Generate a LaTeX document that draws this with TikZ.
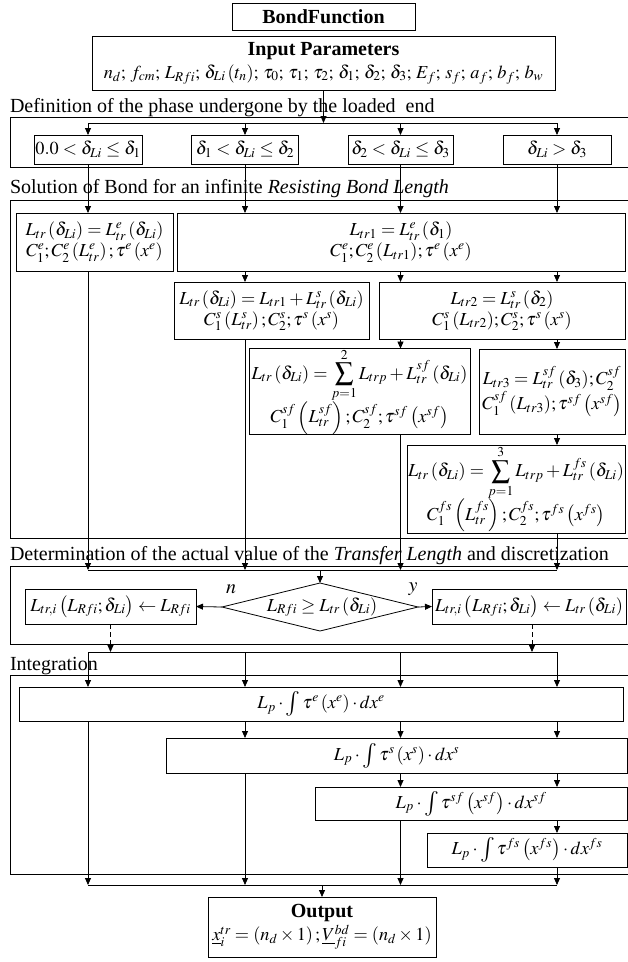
\documentclass[tikz,border=0pt]{standalone}
\usepackage{mathptmx}
\usepackage[no-math]{fontspec}
\setmainfont{Liberation Serif}
\usetikzlibrary{arrows.meta,shapes.geometric}
\newcommand{\Intg}{\mathop{\vcenter{\hbox{\scalebox{1.35}{$\int$}}}}\nolimits}
\newcommand{\semi}{;\mskip2.5mu}
\newcommand{\mfont}{\fontsize{18.3}{21}\selectfont}
\begin{document}
\begin{tikzpicture}[x=1pt,y=-1pt,
  font=\fontsize{20}{23}\selectfont,
  every node/.style={inner sep=0pt, outer sep=0pt},
  box/.style={draw, line width=0.8pt, align=center},
  mbox/.style={box, font=\mfont},
  sec/.style={draw, line width=0.8pt},
  ln/.style={line width=0.8pt},
  arr/.style={line width=0.8pt, -{Triangle[length=7pt,width=6pt]}},
  dsh/.style={arr, dash pattern=on 5pt off 3pt},
  sectitle/.style={anchor=base west},
  dia/.style={draw, diamond, line width=0.8pt, minimum width=196pt, minimum height=48pt}
]
\useasboundingbox (0,0) rectangle (628,962);
% columns and buses
\coordinate (c1) at (88,0);
\coordinate (c2) at (245,0);
\coordinate (c3) at (400.5,0);
\coordinate (c4) at (557,0);
\coordinate (bus1) at (0,123);
\coordinate (bus2) at (0,570);
\coordinate (bus3) at (0,652);
\coordinate (bus4) at (0,885);

% title and input
\node[box, minimum width=183pt, minimum height=27pt] (title) at (323.5,16.5) {\textbf{BondFunction}};
\node[box, minimum width=463pt, minimum height=54pt] (input) at (323.5,63)
  {\textbf{Input Parameters}\\[0pt]
   \mfont$n_d\semi f_{cm}\semi L_{Rfi}\semi\delta_{Li}\,(t_n)\semi\tau_0\semi\tau_1\semi\tau_2\semi\delta_1\semi\delta_2\semi\delta_3\semi E_f\semi s_f\semi a_f\semi b_f\semi b_w$};

% section 1
\node[sectitle] (t1) at (10,112) {Definition of the phase undergone by the loaded\ \ end};
\node[sec, minimum width=618pt, minimum height=50pt] (s1) at (319,142) {};
\node[mbox, minimum width=108pt, minimum height=29pt] (p1) at (88,149.5) {$0.0<\delta_{Li}\le\delta_1$};
\node[mbox, minimum width=107pt, minimum height=29pt] (p2) at (245,149.5) {$\delta_1<\delta_{Li}\le\delta_2$};
\node[mbox, minimum width=105pt, minimum height=29pt] (p3) at (400.5,149.5) {$\delta_2<\delta_{Li}\le\delta_3$};
\node[mbox, minimum width=108pt, minimum height=29pt] (p4) at (557,149.5) {$\delta_{Li}>\delta_3$};

% section 2
\node[sectitle] (t2) at (10,193) {Solution of Bond for an infinite \textit{Resisting Bond Length}};
\node[sec, minimum width=618pt, minimum height=338pt] (s2) at (319,369) {};
\node[mbox, minimum width=157pt, minimum height=58pt] (A) at (94.5,242)
  {$L_{tr}\,(\delta_{Li})=L^{e}_{tr}\,(\delta_{Li})$\\ $C^{e}_{1};C^{e}_{2}\left(L^{e}_{tr}\right);\tau^{e}\left(x^{e}\right)$};
\node[mbox, minimum width=448pt, minimum height=58pt] (B) at (401,242)
  {$L_{tr1}=L^{e}_{tr}\,(\delta_{1})$\\ $C^{e}_{1};C^{e}_{2}\,(L_{tr1});\tau^{e}\left(x^{e}\right)$};
\node[mbox, minimum width=195pt, minimum height=57pt] (C) at (271.5,310.5)
  {$L_{tr}\,(\delta_{Li})=L_{tr1}+L^{s}_{tr}\,(\delta_{Li})$\\ $C^{s}_{1}\left(L^{s}_{tr}\right);C^{s}_{2};\tau^{s}\left(x^{s}\right)$};
\node[mbox, minimum width=246pt, minimum height=57pt] (E) at (502,310.5)
  {$L_{tr2}=L^{s}_{tr}\,(\delta_{2})$\\ $C^{s}_{1}\,(L_{tr2});C^{s}_{2};\tau^{s}\left(x^{s}\right)$};
\node[mbox, minimum width=221pt, minimum height=85pt] (D) at (359.5,391.5)
  {$L_{tr}\,(\delta_{Li})=\displaystyle\sum_{p=1}^{2}L_{trp}+L^{sf}_{tr}\,(\delta_{Li})$\\[-2pt] $C^{sf}_{1}\left(L^{sf}_{tr}\right);C^{sf}_{2};\tau^{sf}\left(x^{sf}\right)$};
\node[mbox, minimum width=146pt, minimum height=85pt] (F) at (552,391.5)
  {$L_{tr3}=L^{sf}_{tr}\,(\delta_{3});C^{sf}_{2}$\\ $C^{sf}_{1}\,(L_{tr3});\tau^{sf}\left(x^{sf}\right)$};
\node[mbox, minimum width=218pt, minimum height=88pt] (G) at (516,489)
  {$L_{tr}\,(\delta_{Li})=\displaystyle\sum_{p=1}^{3}L_{trp}+L^{fs}_{tr}\,(\delta_{Li})$\\[-2pt] $C^{fs}_{1}\left(L^{fs}_{tr}\right);C^{fs}_{2};\tau^{fs}\left(x^{fs}\right)$};

% section 3
\node[sectitle] (t3) at (10,560) {Determination of the actual value of the \textit{Transfer Length} and discretization};
\node[sec, minimum width=618pt, minimum height=78pt] (s3) at (319,605) {};
\node[dia] (dia) at (320,607) {};
\node[font=\mfont] (diat) at (322,607) {$L_{Rfi}\ge L_{tr}\,(\delta_{Li})$};
\node[mbox, minimum width=171pt, minimum height=35pt] (L) at (110.5,606.5)
  {$L_{tr,i}\left(L_{Rfi};\delta_{Li}\right)\leftarrow L_{Rfi}$};
\node[mbox, minimum width=194pt, minimum height=35pt] (R) at (529,606.5)
  {$L_{tr,i}\left(L_{Rfi};\delta_{Li}\right)\leftarrow L_{tr}\,(\delta_{Li})$};
\node (ln) at (231,589) {$n$};
\node (ly) at (413,589) {$y$};

% section 4
\node[sectitle] (t4) at (10,670) {Integration};
\node[sec, minimum width=618pt, minimum height=199pt] (s4) at (319,774.5) {};
\node[mbox, minimum width=604pt, minimum height=34pt] (I1) at (321,704)
  {$L_p\cdot\Intg\tau^{e}\left(x^{e}\right)\cdot dx^{e}$};
\node[mbox, minimum width=461pt, minimum height=35pt] (I2) at (396.5,755.5)
  {$L_p\cdot\Intg\tau^{s}\left(x^{s}\right)\cdot dx^{s}$};
\node[mbox, minimum width=312pt, minimum height=33pt] (I3) at (471,803.5)
  {$L_p\cdot\Intg\tau^{sf}\left(x^{sf}\right)\cdot dx^{sf}$};
\node[mbox, minimum width=200pt, minimum height=34pt] (I4) at (527,850)
  {$L_p\cdot\Intg\tau^{fs}\left(x^{fs}\right)\cdot dx^{fs}$};

% output
\node[box, minimum width=228pt, minimum height=60pt] (out) at (322,927)
  {\textbf{Output}\\[0pt] \mfont$\underline{x}^{tr}_{i}=\left(n_d\times1\right);\underline{V}^{bd}_{fi}=\left(n_d\times1\right)$};

% connectors: section 1
\draw[arr] (input.south) -- (input.south |- bus1);
\draw[ln] (c1 |- bus1) -- (c4 |- bus1);
\foreach \c/\p in {c1/p1,c2/p2,c3/p3,c4/p4}
  \draw[arr] (\c |- bus1) -- (\c |- \p.north);
% section 2
\draw[arr] (c1 |- p1.south) -- (c1 |- A.north);
\draw[arr] (c2 |- p2.south) -- (c2 |- B.north);
\draw[arr] (c3 |- p3.south) -- (c3 |- B.north);
\draw[arr] (c4 |- p4.south) -- (c4 |- B.north);
\draw[arr] (c2 |- B.south) -- (c2 |- C.north);
\draw[arr] (c3 |- B.south) -- (c3 |- E.north);
\draw[arr] (c4 |- B.south) -- (c4 |- E.north);
\draw[arr] (c3 |- E.south) -- (c3 |- D.north);
\draw[arr] (c4 |- E.south) -- (c4 |- F.north);
\draw[arr] (c4 |- F.south) -- (c4 |- G.north);
\draw[arr] (c1 |- A.south) -- (c1 |- bus2);
\draw[arr] (c2 |- C.south) -- (c2 |- bus2);
\draw[arr] (c3 |- D.south) -- (c3 |- bus2);
\draw[arr] (c4 |- G.south) -- (c4 |- bus2);
% section 3
\draw[ln] (c1 |- bus2) -- (c4 |- bus2);
\draw[arr] (dia.north |- bus2) -- (dia.north);
\draw[arr] (dia.west) -- (L.east);
\draw[arr] (dia.east) -- (R.west);
\draw[dsh] (L.south) -- (L.south |- bus3);
\draw[dsh] ([xshift=3pt]R.south) -- ([xshift=3pt]R.south |- bus3);
\draw[ln] (c1 |- bus3) -- (c4 |- bus3);
% section 4
\foreach \c in {c1,c2,c3,c4}
  \draw[arr] (\c |- bus3) -- (\c |- I1.north);
\foreach \c in {c2,c3,c4}
  \draw[arr] (\c |- I1.south) -- (\c |- I2.north);
\foreach \c in {c3,c4}
  \draw[arr] (\c |- I2.south) -- (\c |- I3.north);
\draw[arr] (c4 |- I3.south) -- (c4 |- I4.north);
\draw[arr] (c1 |- I1.south) -- (c1 |- bus4);
\draw[arr] (c2 |- I2.south) -- (c2 |- bus4);
\draw[arr] (c3 |- I3.south) -- (c3 |- bus4);
\draw[arr] (c4 |- I4.south) -- (c4 |- bus4);
\draw[ln] (c1 |- bus4) -- (c4 |- bus4);
\draw[arr] (out.north |- bus4) -- (out.north);
\end{tikzpicture}
\end{document}
